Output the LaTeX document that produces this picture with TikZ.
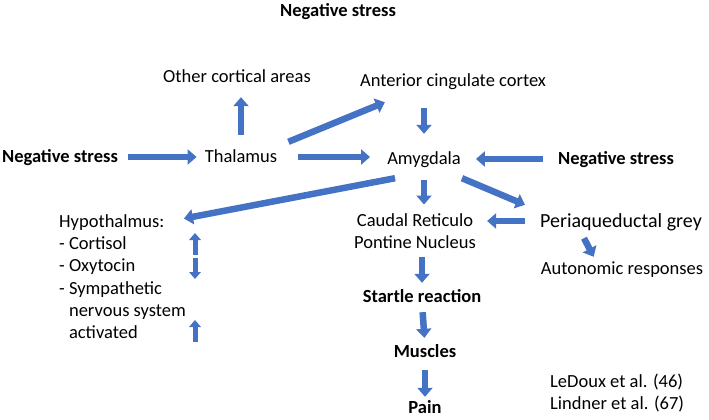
\documentclass[tikz,border=0pt]{standalone}
\usepackage{fontspec}
\setmainfont{Carlito}
\usepackage{tikz}
\usetikzlibrary{arrows.meta}
\definecolor{arrowblue}{HTML}{4472C4}
\tikzset{lbl/.style = {inner sep = 0, text height = 11pt, text depth = 0pt,
                       font = \fontsize{18.5}{22.2}\selectfont}}
\tikzset{boldlbl/.style = {lbl, font = \fontsize{18.5}{22.2}\selectfont\bfseries}}
\tikzset{biglbl/.style = {inner sep = 0, text height = 12pt, text depth = 0pt,
                          font = \fontsize{20}{24}\selectfont}}
\tikzset{multi/.style = {inner sep = 0, font = \fontsize{18.5}{22.2}\selectfont}}
\tikzset{blk/.style = {arrowblue, line width = 6.5pt,
                       -{Triangle[length = 9pt, width = 15pt]}}}
\tikzset{smallblk/.style = {arrowblue, line width = 5pt,
                            -{Triangle[length = 7pt, width = 11.5pt]}}}

\begin{document}
\begin{tikzpicture}[x = 1pt, y = -1pt]
    \useasboundingbox (0, 0) rectangle (709, 420);
    \node (nsTop) at (338, 11) [boldlbl] {Negative stress};
    \node (oca) at (237, 77) [lbl] {Other cortical areas};
    \node (acc) at (453, 81) [lbl] {Anterior cingulate cortex};
    \node (nsL) at (60, 157) [boldlbl] {Negative stress};
    \node (thal) at (241, 157) [lbl] {Thalamus};
    \node (amy) at (424, 159) [lbl] {Amygdala};
    \node (nsR) at (616, 159) [boldlbl] {Negative stress};
    \node (hypo) at (59, 214.5) [multi, anchor = north west, align = left]
        {Hypothalmus:\\- Cortisol\\- Oxytocin\\- Sympathetic\\
         \hphantom{- }nervous system\\\hphantom{- }activated};
    \node (crpn) at (415, 213) [multi, anchor = north, align = center]
        {Caudal Reticulo\\Pontine Nucleus};
    \node (pag) at (621, 221) [biglbl] {Periaqueductal grey};
    \node (auto) at (622, 269) [lbl] {Autonomic responses};
    \node (startle) at (422, 297) [boldlbl] {Startle reaction};
    \node (muscles) at (425, 352) [boldlbl] {Muscles};
    \node (pain) at (425, 408) [boldlbl] {Pain};
    \node (refs) at (550, 373.5) [multi, anchor = north west, align = left]
        {LeDoux et al. (46)\\Lindner et al. (67)};
    % stress in, thalamus out
    \draw [blk, shorten < = 10pt, shorten > = 8pt] (nsL.east) -- (thal.west);
    \draw [blk, shorten < = 16.5pt, shorten > = 14.5pt] (thal.north) -- (thal.north |- oca.south);
    \draw [blk] ([shift = {(11, -9.5)}] thal.north east) -- ([shift = {(25, 15.5)}] acc.south west);
    \draw [blk, shorten < = 21pt, shorten > = 17pt] (thal.east) -- (thal.east -| amy.west);
    \draw [blk, shorten < = 21.5pt, shorten > = 19.5pt] (amy.north |- acc.south) -- (amy.north);
    \draw [blk, shorten < = 15pt, shorten > = 15pt] (nsR.west) -- (nsR.west -| amy.east);
    % amygdala out
    \draw [blk] ([shift = {(8, 13.5)}] amy.south west) -- ([shift = {(-2, 4)}] hypo.north east);
    \draw [blk, shorten < = 15.5pt, shorten > = 8.5pt] (amy.south) -- (amy.south |- crpn.north);
    \draw [blk] ([shift = {(1, 13.5)}] amy.south east) -- ([shift = {(-15, -10)}] pag.north west);
    \draw [blk, shorten < = 15pt, shorten > = 11pt] (pag.west) -- (pag.west -| crpn.east);
    \draw [blk] ([shift = {(44, 11)}] pag.south west) -- ([shift = {(53, -6.5)}] auto.north west);
    % down the chain
    \draw [blk, shorten < = 8pt, shorten > = 8.5pt] (startle.north |- crpn.south) -- (startle.north);
    \draw [blk, shorten < = 9.5pt, shorten > = 8.5pt] (startle.south) -- (muscles.north);
    \draw [blk, shorten < = 12.5pt, shorten > = 5.5pt] (muscles.south) -- (pain.north);
    % hypothalamus marks
    \coordinate (cortA) at (195, 255);
    \coordinate (cortB) at (195, 233);
    \coordinate (oxyA) at (195, 258);
    \coordinate (oxyB) at (195, 279);
    \coordinate (symA) at (195, 342);
    \coordinate (symB) at (195, 320);
    \draw [smallblk] (cortA) -- (cortB);
    \draw [smallblk] (oxyA) -- (oxyB);
    \draw [smallblk] (symA) -- (symB);
\end{tikzpicture}
\end{document}
